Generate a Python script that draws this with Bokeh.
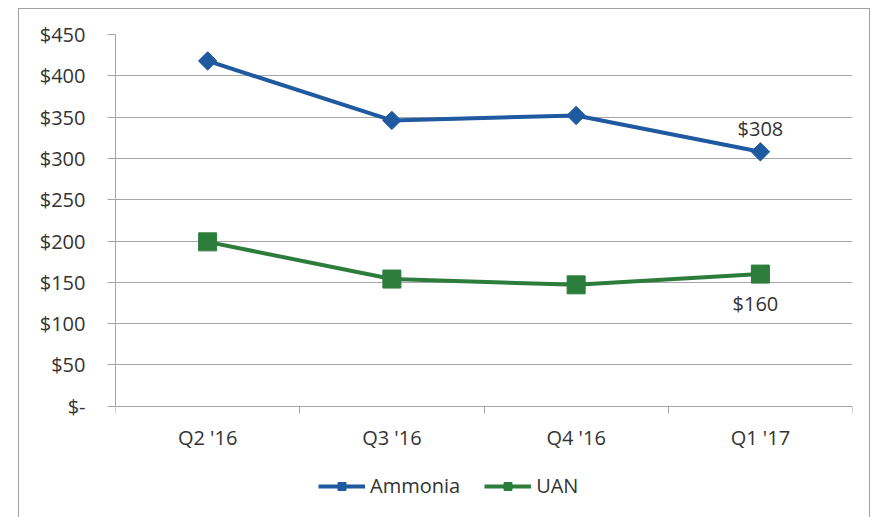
from bokeh.plotting import figure
from bokeh.models import (Range1d, FixedTicker, LinearAxis, ColumnDataSource, Legend,
                          LegendItem)
from bokeh.core.properties import value
from bokeh.embed import file_html
from bokeh.resources import INLINE
import math

categories = ["Q2 '16", "Q3 '16", "Q4 '16", "Q1 '17"]
ammonia = [418, 346, 352, 308]
uan = [199, 154, 147, 160]
y_ticks = [0, 50, 100, 150, 200, 250, 300, 350, 400, 450]
y_tick_labels = ["$-", "$50", "$100", "$150", "$200", "$250", "$300", "$350", "$400", "$450"]

BLUE = "#1F5AA0"
GREEN = "#2C7C3C"
GRID = "#A6A6A6"
TEXT = "#333333"
FONT = "Open Sans"
FS = "20px"

xpos = [i + 0.5 for i in range(len(categories))]

# layout geometry (canvas pixels): value axis 0..450 spans 371 px,
# frame continues 106 px below zero so that the legend sits inside the frame
PX_VALUE = 371
PX_BELOW = 106
y_max = y_ticks[-1]
y_min = -y_max * PX_BELOW / PX_VALUE

p = figure(width=852, height=512, output_backend="svg", toolbar_location=None,
           x_range=Range1d(0, len(categories)), y_range=Range1d(y_min, y_max),
           x_axis_location=None, y_axis_location=None)
p.styles = {"margin-left": "18px", "margin-top": "8px",
            "border-left": "1px solid #A0A0A0", "border-top": "1px solid #A0A0A0",
            "border-right": "1px solid #A0A0A0"}
p.min_border_left = 96
p.min_border_right = 19
p.min_border_top = 25
p.min_border_bottom = 9
p.outline_line_color = None
p.background_fill_color = "white"
p.border_fill_color = "white"

# y axis
yaxis = LinearAxis(ticker=FixedTicker(ticks=y_ticks), bounds=(y_ticks[0], y_ticks[-1]),
                   major_label_overrides={t: l for t, l in zip(y_ticks, y_tick_labels)})
yaxis.axis_line_color = GRID
yaxis.major_tick_line_color = GRID
yaxis.major_tick_out = 8
yaxis.major_tick_in = 0
yaxis.minor_tick_line_color = None
yaxis.major_label_standoff = 22
yaxis.major_label_text_font = FONT
yaxis.major_label_text_font_size = FS
yaxis.major_label_text_color = TEXT
p.add_layout(yaxis, "left")

# x axis line with ticks between categories, drawn at value 0
xtick_axis = LinearAxis(ticker=FixedTicker(ticks=list(range(len(categories) + 1))),
                        fixed_location=0,
                        major_label_overrides={i: "" for i in range(len(categories) + 1)})
xtick_axis.axis_line_color = GRID
xtick_axis.major_tick_line_color = GRID
xtick_axis.major_tick_out = 7
xtick_axis.major_tick_in = 0
xtick_axis.minor_tick_line_color = None
xtick_axis.major_label_text_font_size = "0px"
xtick_axis.major_label_standoff = 0
p.add_layout(xtick_axis, "below")

# x axis category labels
xlab_axis = LinearAxis(ticker=FixedTicker(ticks=xpos), fixed_location=0,
                       major_label_overrides={x: c for x, c in zip(xpos, categories)})
xlab_axis.axis_line_color = None
xlab_axis.major_tick_line_color = None
xlab_axis.minor_tick_line_color = None
xlab_axis.major_tick_out = 0
xlab_axis.major_tick_in = 0
xlab_axis.major_label_standoff = 18
xlab_axis.major_label_text_font = FONT
xlab_axis.major_label_text_font_size = FS
xlab_axis.major_label_text_color = TEXT
p.add_layout(xlab_axis, "below")

p.ygrid.ticker = FixedTicker(ticks=y_ticks)
p.ygrid.grid_line_color = GRID
p.xgrid.grid_line_color = None

src = ColumnDataSource(dict(x=xpos, ammonia=ammonia, uan=uan))

l1 = p.line("x", "ammonia", source=src, line_color=BLUE, line_width=4)
m1 = p.scatter("x", "ammonia", source=src, marker="square", size=13, angle=math.pi / 4,
               fill_color=BLUE, line_color=BLUE)
l2 = p.line("x", "uan", source=src, line_color=GREEN, line_width=4)
m2 = p.scatter("x", "uan", source=src, marker="square", size=18,
               fill_color=GREEN, line_color=GREEN)

# data labels on last points
lab1 = ColumnDataSource(dict(x=[xpos[-1]], y=[ammonia[-1]], t=["$%d" % ammonia[-1]]))
lab2 = ColumnDataSource(dict(x=[xpos[-1]], y=[uan[-1]], t=["$%d" % uan[-1]]))
p.text("x", "y", text="t", source=lab1, y_offset=-23, text_align="center",
       text_baseline="middle", text_font=value(FONT), text_font_size=FS, text_color=TEXT)
p.text("x", "y", text="t", source=lab2, y_offset=29, x_offset=-5, text_align="center",
       text_baseline="middle", text_font=value(FONT), text_font_size=FS, text_color=TEXT)

legend = Legend(items=[LegendItem(label="Ammonia", renderers=[l1, m1]),
                       LegendItem(label="UAN", renderers=[l2, m2])],
                orientation="horizontal", location=(203, 13))
legend.padding = 0
legend.margin = 0
legend.spacing = 24
legend.label_standoff = 5
legend.glyph_width = 47
legend.glyph_height = 20
legend.label_height = 20
legend.border_line_color = None
legend.background_fill_alpha = 0
legend.label_text_font = FONT
legend.label_text_font_size = FS
legend.label_text_color = TEXT
p.add_layout(legend, "center")

open("out.html", "w").write(file_html(p, INLINE))
